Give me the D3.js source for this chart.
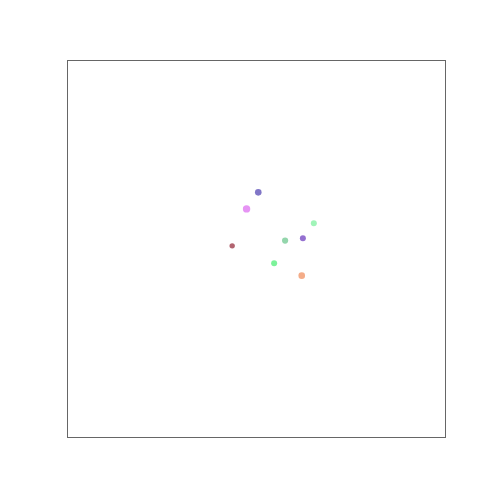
<!DOCTYPE html>
<html>
<head>
<meta charset="utf-8">
<script src="https://cdn.jsdelivr.net/npm/d3@7"></script>
<style>
  body { margin: 0; background: #fff; }
</style>
</head>
<body>
<svg id="chart"></svg>
<script>
// ---- data ----
var xValues = [5.06, 4.75, 6.53, 5.77, 6.24, 4.37, 5.48, 6.21];
var yValues = [6.49, 6.05, 5.67, 5.21, 5.27, 5.07, 4.61, 4.28];
var sizes   = [3.3, 3.7, 3.0, 3.1, 3.0, 2.7, 3.0, 3.3];
var colors  = ["#5548b4", "#dd70f0", "#80f0a0", "#70c890", "#7040c0", "#983040", "#50ee78", "#f09060"];

var margin = {top: 60, right: 55, bottom: 63, left: 67};
var svgWidth = 500, svgHeight = 500;
var chartWidth = svgWidth - margin.left - margin.right;
var chartHeight = svgHeight - margin.top - margin.bottom;

var svg = d3.select("#chart")
    .attr("width", svgWidth)
    .attr("height", svgHeight);

var xScale = d3.scaleLinear().domain([0, 10]).range([0, chartWidth]);
var yScale = d3.scaleLinear().domain([0, 10]).range([chartHeight, 0]);

var g = svg.append("g")
    .attr("transform", "translate(" + margin.left + "," + margin.top + ")");

// frame
g.append("rect")
    .attr("x", 0.5).attr("y", 0.5)
    .attr("width", chartWidth).attr("height", chartHeight)
    .attr("fill", "none")
    .attr("stroke", "#666")
    .attr("stroke-width", 1);

var points = xValues.map(function(x, i) {
    return {x: x, y: yValues[i], r: sizes[i], c: colors[i]};
});

g.selectAll("circle.pt")
    .data(points)
    .enter()
    .append("circle")
    .attr("class", "pt")
    .attr("cx", function(d) { return xScale(d.x); })
    .attr("cy", function(d) { return yScale(d.y); })
    .attr("r", function(d) { return d.r; })
    .attr("fill", function(d) { return d.c; })
    .attr("fill-opacity", 0.75);
</script>
</body>
</html>
